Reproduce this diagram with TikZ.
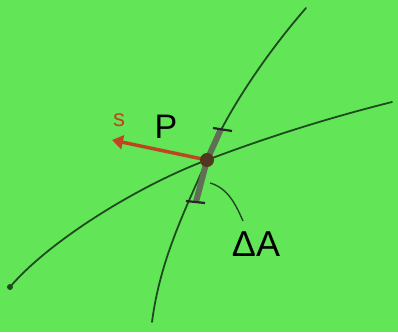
\documentclass[tikz,border=0pt]{standalone}
\usepackage{fontspec}
\setmainfont{Liberation Sans}
\usetikzlibrary{arrows.meta}
\definecolor{bg}{RGB}{98,230,88}
\definecolor{curve}{RGB}{30,75,30}
\definecolor{arrowred}{RGB}{190,70,30}
\definecolor{patch}{RGB}{95,110,85}
\definecolor{dotc}{RGB}{80,55,30}
\tikzset{
  surf/.style={draw=curve, line width=1.8pt, line cap=round},
  tickmark/.style={draw=black!85, line width=2.2pt},
  lbl/.style={inner sep=0pt},
}
\begin{document}
\begin{tikzpicture}[x=1pt,y=-1pt]
\fill[bg] (0,0) rectangle (398,332);
\useasboundingbox (0,0) rectangle (398,332);
% curves
\coordinate (c1a) at (306,8);
\coordinate (c1b) at (152,322);
\coordinate (c2a) at (392,102);
\coordinate (c2b) at (10,287);
\coordinate (O) at (207,160);
\draw[surf] (c1a) .. controls (265,55) and (225,115) .. (O) .. controls (185,210) and (160,260) .. (c1b);
\draw[surf] (c2a) .. controls (320,120) and (260,140) .. (O) .. controls (140,185) and (50,240) .. (c2b);
\fill[curve] (c2b) circle (3);
% area patch
\coordinate (pa) at (221,129);
\coordinate (pb) at (196,202);
\draw[patch, line width=6pt] (pa) -- (O) -- (pb);
\draw[tickmark] (213,128) -- (232,131);
\draw[tickmark] (186,201) -- (205,203);
% arrow
\coordinate (tip) at (112,140);
\draw[arrowred, line width=3.5pt, -{Triangle[length=11pt,width=14pt]}] (O) -- (tip);
\fill[dotc] (O) circle (7);
% labels
\node[lbl, text=arrowred, font=\fontsize{24}{24}\selectfont] (s) at (119,120) {s};
\node[lbl, font=\fontsize{34}{34}\selectfont] (P) at (166,127) {P};
\node[lbl, font=\fontsize{36}{36}\selectfont] (dA) at (256,244) {ΔA};
\coordinate (lead) at (210,183);
\draw[curve, line width=1.4pt] (lead) .. controls (228,188) and (236,205) .. (243,221);
\end{tikzpicture}
\end{document}
